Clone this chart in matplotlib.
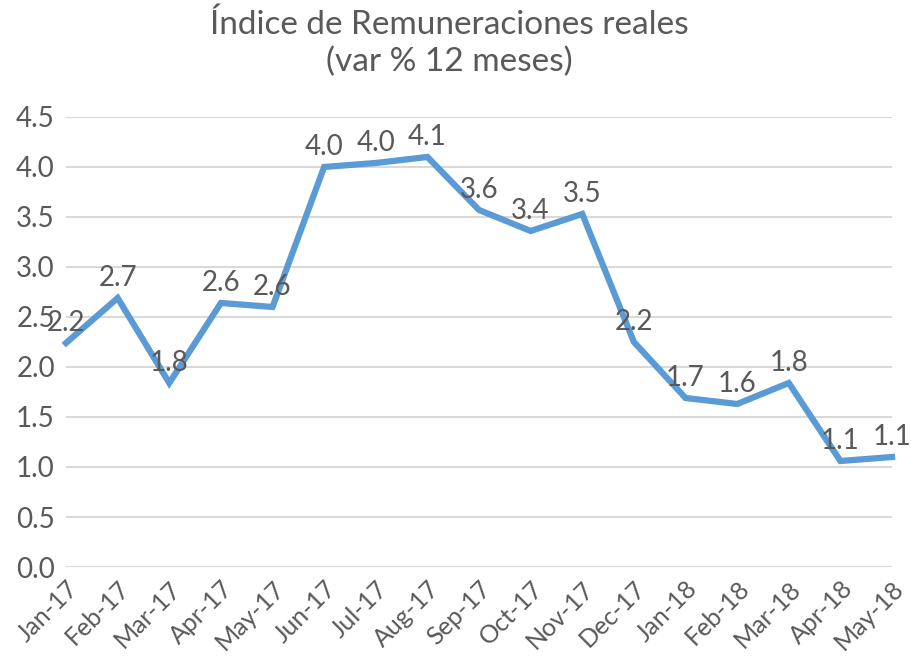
import numpy as np
import matplotlib.pyplot as plt

plt.rcParams['font.family'] = ['Lato', 'DejaVu Sans']

meses = ['Jan-17', 'Feb-17', 'Mar-17', 'Apr-17', 'May-17', 'Jun-17', 'Jul-17', 'Aug-17',
         'Sep-17', 'Oct-17', 'Nov-17', 'Dec-17', 'Jan-18', 'Feb-18', 'Mar-18', 'Apr-18', 'May-18']
valores = [2.24, 2.69, 1.84, 2.64, 2.60, 4.00, 4.04, 4.10, 3.57, 3.36, 3.53, 2.25,
           1.69, 1.63, 1.84, 1.06, 1.10]
yticks = [0.0, 0.5, 1.0, 1.5, 2.0, 2.5, 3.0, 3.5, 4.0, 4.5]

gris = '#595959'
azul = '#5B9BD5'

fig = plt.figure(figsize=(9.12, 6.59), dpi=100)
ax = fig.add_axes([0.0724, 0.1396, 0.9057, 0.6829])

x = np.arange(len(meses))
ax.plot(x, valores, color=azul, linewidth=4.5, solid_joinstyle='miter', zorder=3, clip_on=False)

for xi, v in zip(x, valores):
    ax.annotate(f'{v:.1f}', (xi, v), xytext=(0, 5), textcoords='offset points',
                ha='center', va='bottom', fontsize=20, color=gris, zorder=4)

ax.set_xlim(0, len(meses) - 1)
ax.set_ylim(0, 4.5)
ax.set_yticks(yticks)
ax.set_yticklabels([f'{t:.1f}' for t in yticks])
ax.set_xticks(x)
ax.set_xticklabels(meses, rotation=45, ha='right', va='top', rotation_mode='anchor')

ax.grid(axis='y', color='#D9D9D9', linewidth=1.5, zorder=0)
ax.set_axisbelow(True)
for s in ax.spines.values():
    s.set_visible(False)
ax.tick_params(axis='both', length=0, labelsize=20, colors=gris)
ax.tick_params(axis='x', pad=7, labelsize=18)
ax.tick_params(axis='y', pad=8)

fig.text(0.493, 0.985, 'Índice de Remuneraciones reales\n(var % 12 meses)', ha='center', va='top',
         fontsize=24, color=gris, linespacing=1.25)

fig.savefig('out.png', dpi=100)
